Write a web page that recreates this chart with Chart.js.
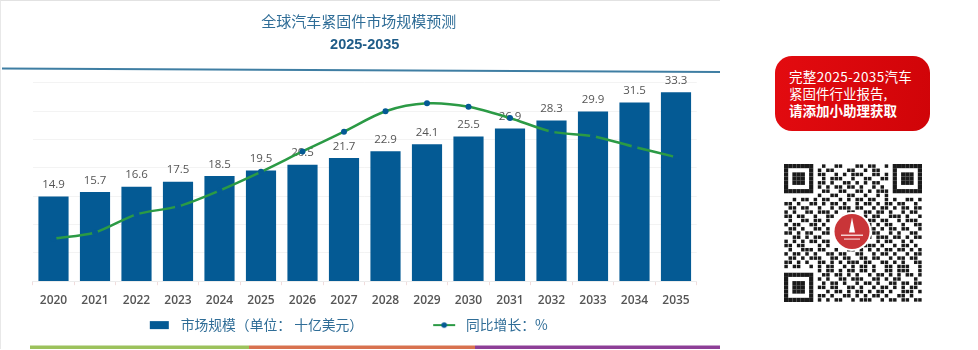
<!DOCTYPE html>
<html lang="zh">
<head>
<meta charset="utf-8">
<script src="https://cdn.jsdelivr.net/npm/chart.js@4/dist/chart.umd.min.js"></script>
<style>
html,body{margin:0;padding:0;background:#fff;width:978px;height:350px;overflow:hidden}
#wrap{position:absolute;left:0;top:0;width:720px;height:350px}
#edge{position:absolute;left:0;top:0;width:720px;height:349px;border-top:1px solid #e2e2e2;border-left:1px solid #e8e8e8;box-sizing:border-box;pointer-events:none}
#promo{position:absolute;left:775px;top:56px;width:155px;height:75px;border-radius:17px;background:linear-gradient(100deg,#e30b10,#d00408);color:#fff;font:13.5px/17px "Noto Sans CJK SC",sans-serif;box-sizing:border-box;padding:12px 0 0 14px;white-space:nowrap}
#promo span{letter-spacing:.35px}
#promo b{font-weight:700}
#qr{position:absolute;left:782px;top:162px;filter:blur(.5px)}
</style>
</head>
<body>
<div id="wrap"><canvas id="c" width="720" height="350"></canvas></div>
<div id="edge"></div>
<div id="promo"><span>完整2025-2035汽车</span><br>紧固件行业报告,<br><b>请添加小助理获取</b></div>
<canvas id="qr" width="142" height="142"></canvas>
<script>
const categories = ['2020','2021','2022','2023','2024','2025','2026','2027','2028','2029','2030','2031','2032','2033','2034','2035'];
const marketSize = [14.9,15.7,16.6,17.5,18.5,19.5,20.5,21.7,22.9,24.1,25.5,26.9,28.3,29.9,31.5,33.3];
const growthLine = [7.5,8.6,11.8,13.2,16.0,19.3,22.9,26.4,30.0,31.4,30.8,28.8,26.4,25.6,23.7,21.9];
const barLegend = '市场规模（单位： 十亿美元）';
const lineLegend = '同比增长：%';
const titleText = '全球汽车紧固件市场规模预测';
const subtitleText = '2025-2035';

const BLUE = '#045a94', GREEN = '#2b9a45', TEXT = '#2f6d97', SANS = '"Open Sans",sans-serif', CJK = '"Noto Sans CJK SC",sans-serif';
const sym = (draw) => { const s = document.createElement('canvas'); s.width = 86; s.height = 14; draw(s.getContext('2d')); return s; };
const barSym = sym(x => { x.fillStyle = BLUE; x.fillRect(62, 3, 19, 8); });
const lineSym = sym(x => {
  x.strokeStyle = GREEN; x.lineWidth = 2; x.beginPath(); x.moveTo(60, 7); x.lineTo(82, 7); x.stroke();
  x.fillStyle = BLUE; x.beginPath(); x.arc(71, 7, 2.8, 0, 7); x.fill();
});

const decor = {
  id: 'decor',
  afterLayout(chart) {
    chart.legend.left -= 47; chart.legend.right -= 47;
    chart.titleBlock.left -= 6; chart.titleBlock.right -= 6;
  },
  afterDatasetDraw(chart, args) {
    if (args.index !== 0) return;
    const c = chart.ctx; c.save();
    c.font = '500 11.5px ' + SANS; c.fillStyle = '#555'; c.textAlign = 'center'; c.textBaseline = 'middle';
    args.meta.data.forEach((b, i) => c.fillText(marketSize[i].toFixed(1), b.x, b.y - 12));
    c.restore();
  },
  beforeDraw(chart) {
    const c = chart.ctx; c.save();
    c.strokeStyle = '#3f7ea3'; c.lineWidth = 1.8;
    c.beginPath(); c.moveTo(2, 68.5); c.lineTo(720, 72); c.stroke();
    [[30, 249, '#9cc25c'], [249, 475, '#d8724f'], [475, 720, '#8d3f97']].forEach(([a, b, col]) => {
      c.fillStyle = col; c.fillRect(a, 345.5, b - a, 3.5);
    });
    c.restore();
  }
};

new Chart(document.getElementById('c'), {
  data: {
    labels: categories,
    datasets: [
      { type: 'bar', label: barLegend, data: marketSize, backgroundColor: BLUE, borderWidth: 0, barThickness: 29.5, order: 2, yAxisID: 'y' },
      { type: 'line', label: lineLegend, data: growthLine, borderColor: GREEN, borderWidth: 2.5, tension: 0.3, pointRadius: 3, pointBackgroundColor: BLUE, pointBorderWidth: 0, order: 1, yAxisID: 'y2' }
    ]
  },
  options: {
    responsive: false, animation: false,
    layout: { padding: { left: 32.75, right: 23.25, top: 0, bottom: 8 } },
    plugins: {
      tooltip: { enabled: false },
      title: { display: true, text: titleText, color: TEXT, font: { family: CJK, size: 15, weight: '400' }, padding: { top: 12, bottom: 5 } },
      subtitle: { display: true, text: subtitleText, color: '#1f5c88', font: { family: '"Liberation Sans",sans-serif', size: 14.5, weight: '700' }, padding: { top: 1.5, bottom: 29 } },
      legend: {
        display: true, position: 'bottom',
        labels: {
          usePointStyle: true, pointStyleWidth: 86, padding: 10, color: TEXT,
          font: { family: CJK, size: 13.8 },
          generateLabels: () => [
            { text: barLegend, pointStyle: barSym, fontColor: TEXT, lineWidth: 0, hidden: false, datasetIndex: 0 },
            { text: lineLegend, pointStyle: lineSym, fontColor: TEXT, lineWidth: 0, hidden: false, datasetIndex: 1 }
          ]
        }
      }
    },
    scales: {
      x: {
        afterFit(s) { s.height = 27; },
        grid: { display: true, drawOnChartArea: false, color: '#f1dcdc', tickLength: 4 },
        border: { color: '#ececec' },
        ticks: { color: '#555', padding: 8, font: { family: SANS, size: 12, weight: '600' }, maxRotation: 0, autoSkip: false }
      },
      y: { display: true, min: 0, max: 35, afterFit(s) { s.width = 0; }, ticks: { display: false, stepSize: 5 }, grid: { color: '#f3f3f3', drawTicks: false }, border: { display: false } },
      y2: { display: false, min: 0, max: 35 }
    }
  },
  plugins: [decor]
});

const qrRows = [
'111111100100110001101100101111111',
'100000101011000110010110001000001',
'101110101100101011100110101011101',
'101110100101110010011001101011101',
'101110101101001101010110001011101',
'100000101010110110100101001000001',
'111111100110011001101011101111111',
'000000001001100110010010100000000',
'001011010110010101101100101001101',
'110100110101101001011010110110010',
'011011001001011101100101101011011',
'101001101110100110011011010010110',
'110110010011001011010110011101001',
'010011011010010010101101100101110',
'101100110100000000011010110010011',
'011010011010000000001101011011001',
'110101100110000000010110010100110',
'001101011000000000001011101101011',
'101010110110000000010010110010100',
'110110001010000000011101001011010',
'010011101100100110101010110110101',
'101101010011011001100101101001011',
'011010111001101100110110010110110',
'110101001101010111011001101010011',
'101100101011001010110100110111001',
'000000001011010110110100110111001',
'111111100110110101001011010101101',
'100000101010011011100110101100010',
'101110100101101001011010011011011',
'101110101101100110100101101010110',
'101110100010110101101011010011101',
'100000101101001101010110100110100',
'111111101010110010111001011011011'
];
(function drawQr() {
  const q = document.getElementById('qr').getContext('2d'), m = 138 / 33, o = 2;
  q.fillStyle = '#1a1a1a';
  qrRows.forEach((row, r) => [...row].forEach((v, k) => {
    const finder = (r < 7 && (k < 7 || k > 25)) || (r > 25 && k < 7);
    const inset = finder ? 0 : 0.35;
    if (v === '1') q.fillRect(o + k * m + inset, o + r * m + inset, m - inset * 2, m - inset * 2);
  }));
  const cx = 70, cy = 69.5;
  q.fillStyle = '#fff'; q.beginPath(); q.arc(cx, cy, 19.5, 0, 7); q.fill();
  q.fillStyle = '#c93538'; q.beginPath(); q.arc(cx, cy, 17.5, 0, 7); q.fill();
  q.fillStyle = '#fff';
  q.beginPath(); q.moveTo(cx, cy - 14); q.lineTo(cx + 3, cy + 1); q.lineTo(cx - 3, cy + 1); q.fill();
  q.fillStyle = '#f6cfcf'; q.fillRect(cx - 11, cy + 3, 22, 1.5); q.fillRect(cx - 8, cy + 7, 16, 1.2);
})();
</script>
</body>
</html>
